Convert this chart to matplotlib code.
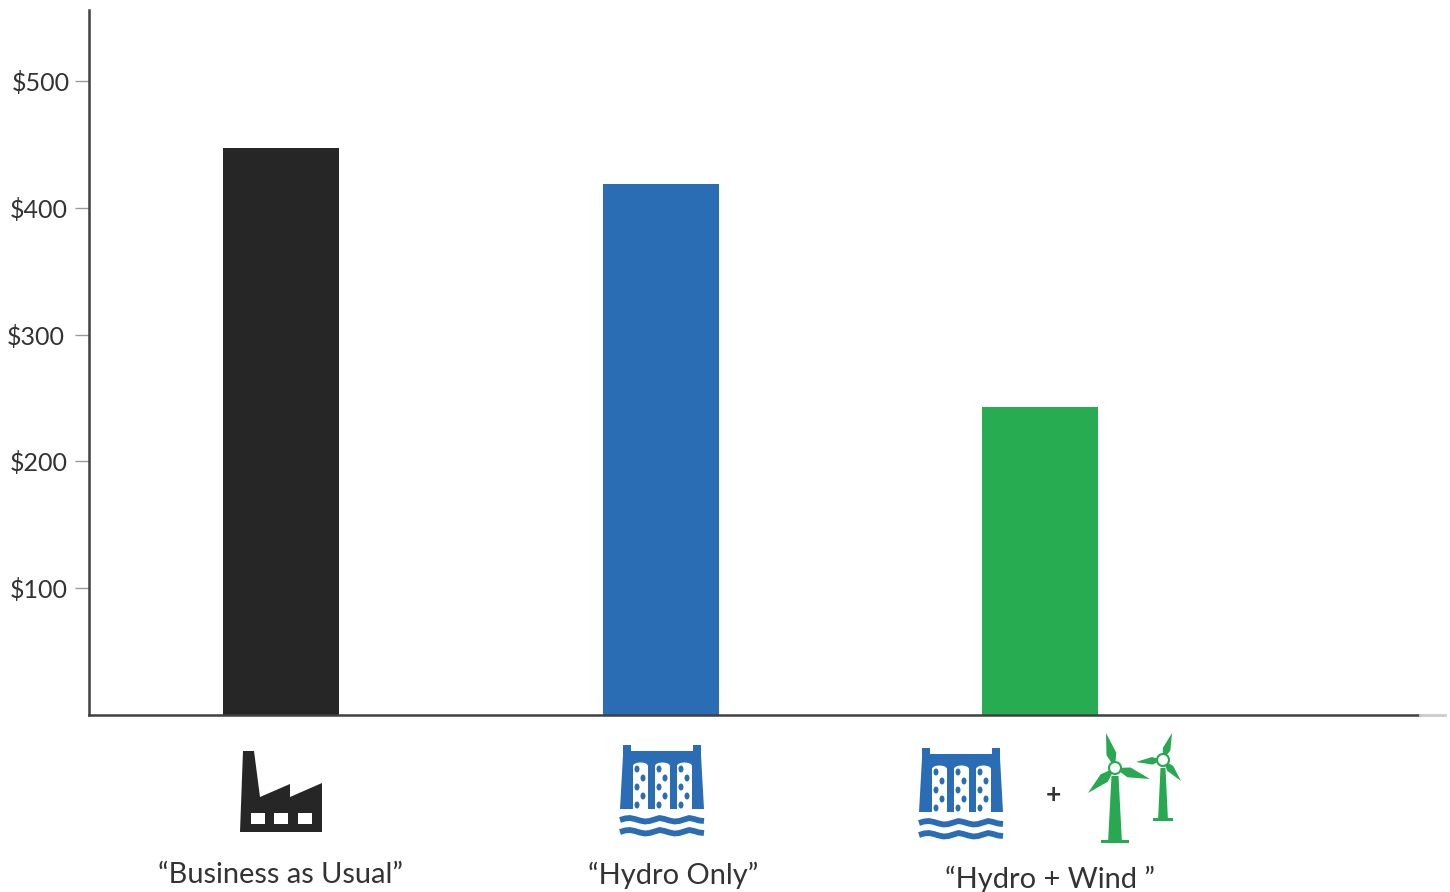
import matplotlib
matplotlib.use('Agg')
import matplotlib.pyplot as plt
from matplotlib.patches import Polygon, Rectangle, Ellipse

plt.rcParams['font.family'] = ['Lato', 'DejaVu Sans']

# Data
scenarios = ['\u201cBusiness as Usual\u201d', '\u201cHydro Only\u201d', '\u201cHydro + Wind \u201d']
costs = [447, 419, 243]
bar_colors = ['#262626', '#2a6db5', '#27ac52']
tick_values = [100, 200, 300, 400, 500]
tick_labels = ['$100', '$200', '$300', '$400', '$500']

BLUE = '#2a6db5'
GREEN = '#27a851'
BLACK = '#262626'
W, H = 1450, 892

fig = plt.figure(figsize=(W / 100, H / 100), dpi=100)

# Main axes, placed so the spines land where the reference has them
ax = fig.add_axes([89 / W, (H - 715) / H, (1420 - 89) / W, 705 / H])
ax.bar(range(3), costs, width=0.305, color=bar_colors)
ax.set_xlim(-0.506, 3.0)
ax.set_ylim(0, 705 / 1.268)
ax.set_yticks(tick_values)
ax.set_yticklabels(tick_labels, fontsize=18, color='#333333')
ax.set_xticks([])
ax.tick_params(axis='y', length=10, width=1, color='#999999')
# the labels in the reference do not quite line up on the right
for tick, pad in zip(ax.yaxis.get_major_ticks(), [5.5, 5, 7.5, 5.5, 4]):
    tick.set_pad(pad)
ax.spines['top'].set_visible(False)
ax.spines['right'].set_visible(False)
for side in ['left', 'bottom']:
    ax.spines[side].set_color('#404040')
    ax.spines[side].set_linewidth(1.8)

# Overlay in image pixels for the icons and the captions
ov = fig.add_axes([0, 0, 1, 1], facecolor='none')
ov.set_xlim(0, W)
ov.set_ylim(H, 0)
ov.axis('off')


def draw_factory(x, y):
    pts = [(3, 0), (14, 0), (20, 46), (50, 33), (50, 46), (82, 32), (82, 81), (0, 81)]
    ov.add_patch(Polygon([(x + a, y + b) for a, b in pts], color=BLACK, lw=0))
    for wx in [11, 34, 58]:
        ov.add_patch(Rectangle((x + wx, y + 62), 14, 11, color='white', lw=0))


def draw_dam(x, y):
    pts = [(3, 0), (11, 0), (11, 6), (73, 6), (73, 0), (81, 0), (81, 10), (84, 64), (0, 64), (3, 10)]
    ov.add_patch(Polygon([(x + a, y + b) for a, b in pts], color=BLUE, lw=0))
    for cx in [13, 35, 57]:
        ov.add_patch(Rectangle((x + cx, y + 21), 15, 43, color='white', lw=0))
        ov.add_patch(Ellipse((x + cx + 7.5, y + 21), 15, 7, color='white', lw=0))
        for i, dy in enumerate([24, 33, 42, 51, 60]):
            ov.add_patch(Ellipse((x + cx + (4 if i % 2 == 0 else 10), y + dy), 5, 7, color=BLUE, lw=0))
    wave = [0, -1.5, -2, -1, 0.5, 1.5, 1, -0.5, -2, -1, 0.5, 1.5, 1, -0.5, -2, -1, 0.5, 1]
    for wy in [75, 87]:
        xs = [x + 84 * i / (len(wave) - 1) for i in range(len(wave))]
        ov.plot(xs, [y + wy + w for w in wave], color=BLUE, lw=4.2, solid_capstyle='butt')


def draw_turbine(hx, hy, tips, base_y, tower_w, base_w):
    for tx, ty in tips:
        dx, dy = tx - hx, ty - hy
        nx, ny = -dy * 0.14, dx * 0.14
        mx, my = hx + dx * 0.4, hy + dy * 0.4
        ov.add_patch(Polygon([(hx, hy), (mx + nx, my + ny), (tx, ty), (mx - nx, my - ny)], color=GREEN, lw=0))
    ov.add_patch(Polygon([(hx - tower_w * 0.5, hy + 8), (hx + tower_w * 0.5, hy + 8),
                          (hx + tower_w, base_y), (hx - tower_w, base_y)], color=GREEN, lw=0))
    ov.add_patch(Rectangle((hx - base_w / 2, base_y - 3), base_w, 3, color=GREEN, lw=0))
    ov.add_patch(Ellipse((hx, hy), 12, 12, fc='white', ec=GREEN, lw=1.5))


draw_factory(240, 751)
draw_dam(620, 745)
draw_dam(919, 748)
ov.text(1053, 795, '+', fontsize=19, fontweight='bold', color='#333333', ha='center', va='center')
draw_turbine(1163, 760, [(1172, 733), (1136, 762), (1181, 781)], 821, 5, 20)
draw_turbine(1115, 768, [(1106, 733), (1150, 779), (1088, 793)], 843, 7, 28)

caption_x = [281, 673, 1050]
caption_y = [875, 875, 879]
for label, cx, cy in zip(scenarios, caption_x, caption_y):
    ov.text(cx, cy, label, fontsize=20.9, color='#333333', ha='center', va='center')

# Faded tail of the x axis
ov.plot([1420, 1445], [715, 715], color='#cccccc', lw=2)

fig.savefig('out.png', dpi=100)
